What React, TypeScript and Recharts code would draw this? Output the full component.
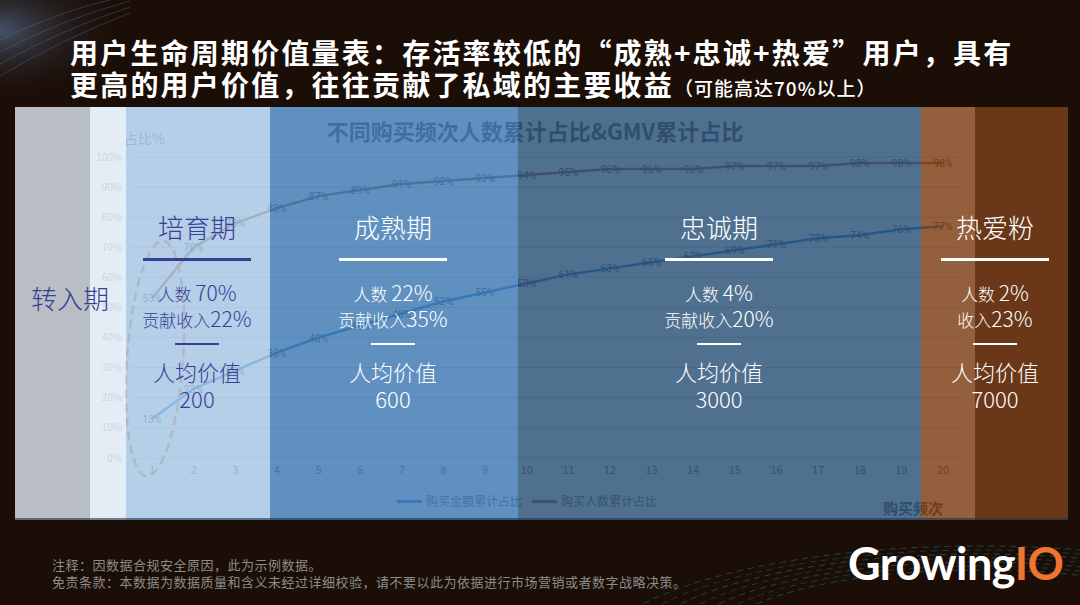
import React from 'react';
import { LineChart, Line, XAxis, YAxis, CartesianGrid, Legend, ReferenceDot } from 'recharts';

const frequencies = [1, 2, 3, 4, 5, 6, 7, 8, 9, 10, 11, 12, 13, 14, 15, 16, 17, 18, 19, 20];
const gmvShare = [13, 23, 29, 35, 40, 44, 48, 52, 55, 58, 61, 63, 65, 67, 69, 71, 73, 74, 76, 77];
const userShare = [53, 70, 78, 83, 87, 89, 91, 92, 93, 94, 95, 96, 96, 96, 97, 97, 97, 98, 98, 98];
const yTicks = [0, 10, 20, 30, 40, 50, 60, 70, 80, 90, 100];

const gmvName = '购买金额累计占比';
const userName = '购买人数累计占比';

const data = frequencies.map((f, i) => ({ freq: f, gmv: gmvShare[i], users: userShare[i] }));

const CJK = '"Noto Sans CJK SC", "Noto Sans", sans-serif';

const bands = [
  { left: 15, width: 75, color: 'rgb(185,189,196)' },
  { left: 90, width: 36, color: 'rgba(221,231,244,0.8)' },
  { left: 126, width: 144, color: 'rgba(163,195,226,0.8)' },
  { left: 270, width: 248, color: 'rgba(56,116,176,0.8)' },
  { left: 518, width: 403, color: 'rgba(36,76,115,0.8)' },
  { left: 921, width: 54, color: 'rgba(121,55,11,0.8)' },
  { left: 975, width: 93, color: 'rgb(106,56,24)' },
];

const renderLabel = (props: any) => {
  const { x, y, value } = props;
  if (x == null || y == null) return null;
  return (
    <text x={x} y={y} dy={4} textAnchor="middle" fontSize={10.5} fill="#5a5a5a" fontFamily="Roboto, sans-serif">
      {value}%
    </text>
  );
};

const ellipseShape = (p: any) => (
  <ellipse
    cx={p.cx + 3}
    cy={p.cy}
    rx={28}
    ry={118}
    transform={`rotate(4 ${p.cx + 3} ${p.cy})`}
    fill="none"
    stroke="#e08a48"
    strokeWidth={2.5}
    strokeDasharray="9 5"
  />
);

type Group = {
  cx: number;
  title: string;
  l1a: string;
  l1b: string;
  l2a: string;
  l2b: string;
  value: string;
  color: string;
};

const groups: Group[] = [
  { cx: 197, title: '培育期', l1a: '人数 ', l1b: '70%', l2a: '贡献收入', l2b: '22%', value: '200', color: '#393e96' },
  { cx: 393, title: '成熟期', l1a: '人数 ', l1b: '22%', l2a: '贡献收入', l2b: '35%', value: '600', color: '#ffffff' },
  { cx: 719, title: '忠诚期', l1a: '人数 ', l1b: '4%', l2a: '贡献收入', l2b: '20%', value: '3000', color: '#ffffff' },
  { cx: 995, title: '热爱粉', l1a: '人数 ', l1b: '2%', l2a: '收入', l2b: '23%', value: '7000', color: '#ffffff' },
];

const centered = (cx: number, cy: number, h: number): React.CSSProperties => ({
  position: 'absolute',
  left: cx - 100,
  width: 200,
  top: cy - h / 2,
  height: h,
  lineHeight: `${h}px`,
  textAlign: 'center',
  whiteSpace: 'nowrap',
  fontWeight: 300,
});

function GroupText({ g }: { g: Group }) {
  return (
    <>
      <div style={{ ...centered(g.cx, 227, 32), fontSize: 26, color: g.color }}>{g.title}</div>
      <div style={{ position: 'absolute', left: g.cx - 54, top: 258, width: 108, height: 2.5, background: g.color }} />
      <div style={{ ...centered(g.cx, 292, 26), color: g.color }}>
        <span style={{ fontSize: 17 }}>{g.l1a}</span>
        <span style={{ fontSize: 21 }}>{g.l1b}</span>
      </div>
      <div style={{ ...centered(g.cx, 318, 26), color: g.color }}>
        <span style={{ fontSize: 17 }}>{g.l2a}</span>
        <span style={{ fontSize: 21 }}>{g.l2b}</span>
      </div>
      <div style={{ position: 'absolute', left: g.cx - 22, top: 343, width: 44, height: 2, background: g.color }} />
      <div style={{ ...centered(g.cx, 371, 28), fontSize: 22, color: g.color }}>人均价值</div>
      <div style={{ ...centered(g.cx, 398, 28), fontSize: 22, color: g.color }}>{g.value}</div>
    </>
  );
}

export default function App() {
  return (
    <div
      style={{
        position: 'absolute',
        left: 0,
        top: 0,
        width: 1080,
        height: 605,
        overflow: 'hidden',
        background: '#1b0e07',
        fontFamily: CJK,
      }}
    >
      {/* decorative swirls */}
      <svg width={1080} height={605} style={{ position: 'absolute', left: 0, top: 0 }}>
        <defs>
          <radialGradient id="glow" cx="0" cy="0.05" r="0.12">
            <stop offset="0%" stopColor="#6a8ab8" stopOpacity={0.55} />
            <stop offset="100%" stopColor="#1b0e07" stopOpacity={0} />
          </radialGradient>
        </defs>
        <rect x={0} y={0} width={1080} height={605} fill="url(#glow)" />
        {[0, 1, 2, 3, 4, 5, 6].map((i) => (
          <ellipse key={'a' + i} cx={980} cy={640 + i * 4} rx={260 + i * 22} ry={70 + i * 8} fill="none"
            stroke={i % 2 ? '#1f6a88' : '#2a8a9a'} strokeOpacity={0.45} strokeWidth={1} strokeDasharray="6 5" />
        ))}
        {[0, 1, 2, 3].map((i) => (
          <path key={'b' + i} d={`M0 ${40 + i * 12} Q 60 ${10 + i * 10} 130 ${-5 + i * 6}`} fill="none"
            stroke="#5a78a8" strokeOpacity={0.35} strokeWidth={1} />
        ))}
      </svg>

      {/* title */}
      <div style={{ position: 'absolute', left: 70, top: 36, height: 32, lineHeight: '32px', fontSize: 28, fontWeight: 700, color: '#fff', letterSpacing: 2.2, whiteSpace: 'nowrap' }}>
        用户生命周期价值量表：存活率较低的“成熟+忠诚+热爱”用户，具有
      </div>
      <div style={{ position: 'absolute', left: 70, top: 68, height: 32, lineHeight: '32px', fontSize: 28, fontWeight: 700, color: '#fff', letterSpacing: 2.2, whiteSpace: 'nowrap' }}>
        更高的用户价值，往往贡献了私域的主要收益
        <span style={{ fontSize: 19, letterSpacing: 1, fontWeight: 500 }}>（可能高达70%以上）</span>
      </div>

      {/* chart panel */}
      <div style={{ position: 'absolute', left: 15, top: 107, width: 1053, height: 413, background: '#ffffff' }}>
        <div style={{ position: 'absolute', left: 310, width: 420, top: 7, textAlign: 'center', fontSize: 22, fontWeight: 700, color: '#5c5c5c', whiteSpace: 'nowrap' }}>
          不同购买频次人数累计占比&amp;GMV累计占比
        </div>
        <div style={{ position: 'absolute', left: 109, top: 21, fontSize: 14, color: '#8a8a8a' }}>占比%</div>
        <div style={{ position: 'absolute', left: 868, top: 390, fontSize: 15, fontWeight: 700, color: '#555' }}>购买频次</div>
        <LineChart width={1053} height={413} data={data} margin={{ top: 50, right: 105, bottom: 32, left: 55 }}>
          <CartesianGrid vertical={false} stroke="#d6d6d6" />
          <XAxis
            dataKey="freq"
            type="number"
            domain={[1, 20]}
            ticks={frequencies}
            interval={0}
            padding={{ left: 22, right: 20 }}
            axisLine={false}
            tickLine={false}
            tick={{ fontSize: 11, fill: '#707070' }}
          />
          <YAxis
            width={60}
            domain={[0, 100]}
            ticks={yTicks}
            interval={0}
            tickFormatter={(v: number) => `${v}%`}
            axisLine={false}
            tickLine={false}
            tick={{ fontSize: 10, fill: '#8a8a8a' }}
          />
          <ReferenceDot x={1} y={33} r={1} shape={ellipseShape} ifOverflow="visible" />
          <Line
            type="linear"
            dataKey="gmv"
            name={gmvName}
            stroke="#2f86d8"
            strokeWidth={2.5}
            dot={false}
            isAnimationActive={false}
            label={renderLabel}
          />
          <Line
            type="linear"
            dataKey="users"
            name={userName}
            stroke="#a86a40"
            strokeWidth={2.5}
            dot={false}
            isAnimationActive={false}
            label={renderLabel}
          />
          <Legend
            verticalAlign="middle"
            align="center"
            iconType="plainline"
            iconSize={25}
            itemSorter="dataKey"
            wrapperStyle={{ top: 380, left: 367, width: 300 }}
            formatter={(value: string) => <span style={{ color: '#707070', fontSize: 12 }}>{value}</span>}
          />
        </LineChart>
      </div>

      {/* band overlays */}
      {bands.map((b, i) => (
        <div key={i} style={{ position: 'absolute', left: b.left, width: b.width, top: 107, height: 413, background: b.color }} />
      ))}
      <div style={{ position: 'absolute', left: 15, width: 1053, top: 518, height: 2, background: 'rgba(30,50,80,0.6)' }} />

      {/* stage texts */}
      <div style={{ ...centered(70, 298, 32), fontSize: 26, color: '#393e96' }}>转入期</div>
      {groups.map((g, i) => (
        <GroupText key={i} g={g} />
      ))}

      {/* footer */}
      <div style={{ position: 'absolute', left: 52, top: 556, fontSize: 13, color: '#8c8c8c', letterSpacing: 0.5, whiteSpace: 'nowrap', lineHeight: '17px' }}>
        注释：因数据合规安全原因，此为示例数据。
        <br />
        免责条款：本数据为数据质量和含义未经过详细校验，请不要以此为依据进行市场营销或者数字战略决策。
      </div>
      <div style={{ position: 'absolute', left: 848, top: 535, height: 56, lineHeight: '56px', fontSize: 45, fontWeight: 700, fontFamily: 'Lato, "Open Sans", sans-serif', color: '#fff', letterSpacing: -0.5, whiteSpace: 'nowrap' }}>
        Growing<span style={{ color: '#ef7430' }}>IO</span>
      </div>
    </div>
  );
}
